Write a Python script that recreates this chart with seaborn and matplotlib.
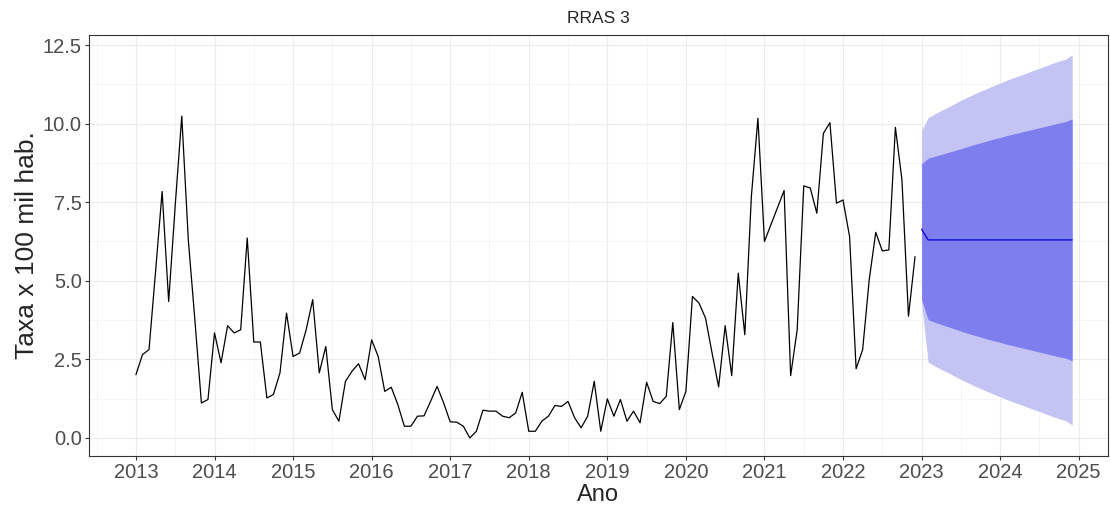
"""
RRAS 3 - série mensal e previsão (leque 80% / 95%)
"""
import numpy as np
import pandas as pd
import matplotlib
matplotlib.use("Agg")
import matplotlib.pyplot as plt
import seaborn as sns
from matplotlib.ticker import MultipleLocator, FormatStrFormatter

# --- dados observados (jan/2013 - dez/2022) ---
anos = list(range(2013, 2023))
taxa = [
    2.01, 2.65, 2.81, 5.30, 7.84, 4.34, 7.40, 10.24, 6.30, 3.76, 1.11, 1.22,   # 2013
    3.34, 2.39, 3.57, 3.34, 3.44, 6.36, 3.05, 3.05, 1.27, 1.38, 2.07, 3.97,    # 2014
    2.59, 2.70, 3.44, 4.40, 2.07, 2.91, 0.90, 0.53, 1.80, 2.12, 2.36, 1.85,    # 2015
    3.12, 2.59, 1.48, 1.61, 1.06, 0.37, 0.37, 0.69, 0.70, 1.16, 1.64, 1.11,    # 2016
    0.51, 0.50, 0.37, 0.00, 0.21, 0.88, 0.85, 0.85, 0.69, 0.64, 0.79, 1.45,    # 2017
    0.21, 0.21, 0.53, 0.69, 1.03, 1.00, 1.16, 0.64, 0.32, 0.69, 1.80, 0.21,    # 2018
    1.24, 0.69, 1.22, 0.53, 0.85, 0.48, 1.77, 1.16, 1.09, 1.32, 3.67, 0.90,    # 2019
    1.48, 4.50, 4.29, 3.81, 2.70, 1.62, 3.57, 1.98, 5.24, 3.28, 7.68, 10.17,   # 2020
    6.25, 6.79, 7.33, 7.87, 1.98, 3.44, 8.02, 7.95, 7.15, 9.69, 10.03, 7.47,   # 2021
    7.57, 6.41, 2.20, 2.81, 5.03, 6.54, 5.95, 5.98, 9.88, 8.21, 3.87, 5.77,    # 2022
]

# --- previsão (jan/2023 - dez/2024) ---
anos_prev = [2023, 2024]
media = [6.64, 6.30, 6.30, 6.30, 6.30, 6.30, 6.30, 6.30, 6.30, 6.30, 6.30, 6.30,
         6.30, 6.30, 6.30, 6.30, 6.30, 6.30, 6.30, 6.30, 6.30, 6.30, 6.30, 6.30]
hi80 = [8.72, 8.90, 8.96, 9.02, 9.08, 9.14, 9.20, 9.27, 9.33, 9.39, 9.45, 9.51,
        9.56, 9.62, 9.67, 9.72, 9.77, 9.82, 9.87, 9.92, 9.97, 10.02, 10.07, 10.15]
lo80 = [4.40, 3.76, 3.68, 3.61, 3.54, 3.47, 3.40, 3.33, 3.27, 3.21, 3.15, 3.09,
        3.04, 2.98, 2.93, 2.88, 2.83, 2.78, 2.73, 2.68, 2.63, 2.58, 2.54, 2.45]
hi95 = [9.78, 10.19, 10.31, 10.42, 10.52, 10.63, 10.74, 10.84, 10.94, 11.03, 11.12, 11.21,
        11.29, 11.38, 11.46, 11.53, 11.61, 11.69, 11.76, 11.84, 11.92, 11.99, 12.05, 12.19]
lo95 = [4.30, 2.41, 2.29, 2.18, 2.08, 1.97, 1.86, 1.76, 1.66, 1.57, 1.48, 1.39,
        1.31, 1.22, 1.14, 1.07, 0.99, 0.91, 0.84, 0.76, 0.68, 0.61, 0.55, 0.41]

anos_ticks = list(range(2013, 2026))

obs = pd.DataFrame({
    'tempo': [a + m / 12 for a in anos for m in range(12)],
    'taxa': taxa,
})
prev = pd.DataFrame({
    'tempo': [a + m / 12 for a in anos_prev for m in range(12)],
    'media': media, 'hi80': hi80, 'lo80': lo80, 'hi95': hi95, 'lo95': lo95,
})

sns.set_style("whitegrid")
plt.rcParams['font.family'] = ['Liberation Sans', 'DejaVu Sans']

fig, ax = plt.subplots(figsize=(11.1, 5.15), dpi=100)
fig.subplots_adjust(left=0.08, right=0.998, bottom=0.115, top=0.932)

# leque de previsão
ax.fill_between(prev['tempo'], prev['lo95'], prev['hi95'], color='#C4C4F4', lw=0, zorder=2)
ax.fill_between(prev['tempo'], prev['lo80'], prev['hi80'], color='#7E7EEE', lw=0, zorder=3)
sns.lineplot(data=prev, x='tempo', y='media', color='#1010D0', lw=1.0, ax=ax, zorder=4)

# série observada
sns.lineplot(data=obs, x='tempo', y='taxa', color='black', lw=0.9, ax=ax, zorder=5)

ax.set_xlim(2012.40, 2025.37)
ax.set_ylim(-0.57, 12.82)
ax.set_xticks(anos_ticks)
ax.xaxis.set_minor_locator(MultipleLocator(0.5))
ax.yaxis.set_major_locator(MultipleLocator(2.5))
ax.yaxis.set_minor_locator(MultipleLocator(1.25))
ax.yaxis.set_major_formatter(FormatStrFormatter('%.1f'))

ax.grid(which='major', color='#EBEBEB', lw=0.8)
ax.grid(which='minor', color='#F2F2F2', lw=0.5)
ax.set_axisbelow(True)

for s in ax.spines.values():
    s.set_color('#333333')
    s.set_linewidth(0.8)

ax.tick_params(axis='both', which='major', length=3, width=0.8, color='#333333',
               labelsize=14.5, labelcolor='#4D4D4D', pad=2, bottom=True, left=True)
ax.tick_params(axis='both', which='minor', length=0)

ax.set_title('RRAS 3', fontsize=12.5, pad=9)
ax.set_xlabel('Ano', fontsize=17, labelpad=2)
ax.set_ylabel('Taxa x 100 mil hab.', fontsize=19, labelpad=3)

plt.savefig('out.png', dpi=100)
